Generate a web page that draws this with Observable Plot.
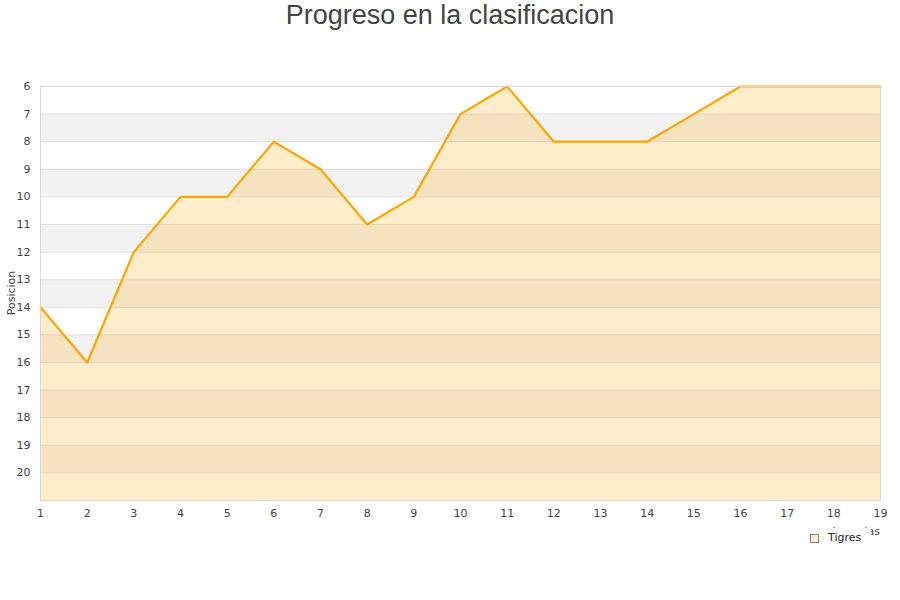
<!DOCTYPE html>
<html>
<head>
<meta charset="utf-8">
<script src="https://cdn.jsdelivr.net/npm/d3@7"></script>
<script src="https://cdn.jsdelivr.net/npm/@observablehq/plot@0.6"></script>
<style>
  html, body { margin: 0; padding: 0; background: #fff; }
  #wrap { position: relative; width: 900px; height: 600px; overflow: hidden; font-family: "DejaVu Sans", sans-serif; }
  #title { position: absolute; left: 0; top: -1px; width: 900px; text-align: center; font-family: "Liberation Sans", Arial, sans-serif; font-size: 27px; color: #444; line-height: 32px; }
  #chart { position: absolute; left: 0; top: 0; }
  #ylabel { position: absolute; left: 11px; top: 293px; transform: translate(-50%, -50%) rotate(-90deg); font-size: 11px; color: #444; white-space: nowrap; }
  #xlabel { position: absolute; right: 20px; top: 525px; font-size: 11px; color: #444; white-space: nowrap; }
  #legend { position: absolute; left: 798px; top: 528px; width: 73px; height: 22px; background: #fff; }
  #legend .sw { position: absolute; left: 12px; top: 6px; width: 7px; height: 7px; background: #ffedcc; border: 1px solid #888; }
  #legend .lt { position: absolute; left: 30px; top: 3px; font-size: 11px; color: #222; }
</style>
</head>
<body>
<div id="wrap">
  <div id="chart"></div>
  <div id="title">Progreso en la clasificacion</div>
  <div id="ylabel">Posicion</div>
  <div id="xlabel">Jornadas</div>
  <div id="legend"><div class="sw"></div><div class="lt">Tigres</div></div>
</div>
<script>
const jornadas = [1,2,3,4,5,6,7,8,9,10,11,12,13,14,15,16,17,18,19];
const posiciones = [14,16,12,10,10,8,9,11,10,7,6,8,8,8,7,6,6,6,6];
const yTicks = [6,7,8,9,10,11,12,13,14,15,16,17,18,19,20];
const bandStarts = [7,9,11,13,15,17,19];
const serieNombre = "Tigres";

const data = jornadas.map((j, i) => ({j, pos: posiciones[i]}));
const bands = bandStarts.map(s => ({y1: s, y2: s + 1}));

const chart = Plot.plot({
  width: 900,
  height: 600,
  marginTop: 86,
  marginBottom: 100,
  marginLeft: 40,
  marginRight: 20,
  style: {fontFamily: "DejaVu Sans, sans-serif", fontSize: "11px", color: "#444", background: "transparent"},
  x: {domain: [1, 19], ticks: jornadas, tickFormat: d => String(d), tickSize: 0, tickPadding: 9, label: null},
  y: {domain: [6, 21], reverse: true, ticks: yTicks, tickSize: 0, tickPadding: 10, label: null},
  marks: [
    Plot.rect(bands, {y1: "y1", y2: "y2", fill: "#f2f2f2"}),
    Plot.ruleY(yTicks, {stroke: "#e0e0e0", strokeWidth: 1}),
    Plot.areaY(data, {x: "j", y1: 21, y2: "pos", fill: "#ffa500", fillOpacity: 0.2}),
    Plot.lineY(data, {x: "j", y: "pos", stroke: "#ffa500", strokeWidth: 2.2}),
    Plot.frame({stroke: "#d8d8d8"})
  ]
});
document.getElementById("chart").appendChild(chart);
document.getElementById("legend").querySelector(".lt").textContent = serieNombre;
</script>
</body>
</html>
